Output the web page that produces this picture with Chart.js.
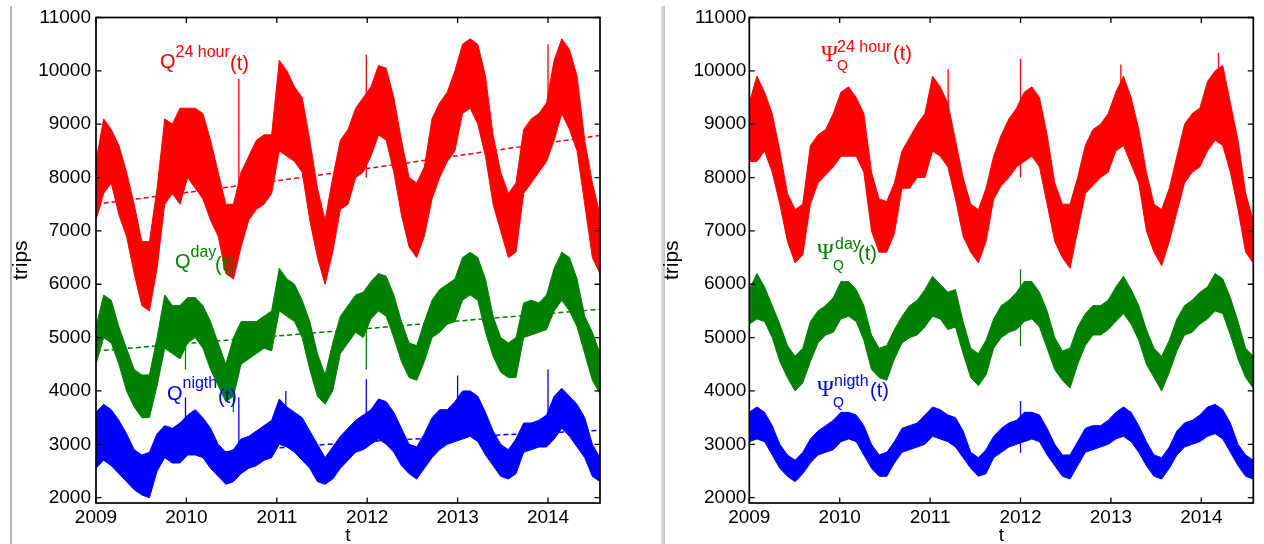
<!DOCTYPE html>
<html><head><meta charset="utf-8">
<script src="https://cdn.jsdelivr.net/npm/chart.js@4.4.1/dist/chart.umd.min.js"></script>
<style>
html,body{margin:0;padding:0;background:#fff;}
#wrap{position:relative;width:1264px;height:544px;overflow:hidden;background:#fff;font-family:"Liberation Sans",Arial,sans-serif;}
.cv{position:absolute;top:0;height:544px;width:632px;}
.sep{position:absolute;}
.lbl{position:absolute;white-space:nowrap;line-height:0;}
</style></head><body>
<div id="wrap">
 <div class="sep" style="left:10px;top:6px;width:2px;height:538px;background:#b4b4b4"></div>
 <div class="sep" style="left:661px;top:6px;width:4px;height:538px;background:linear-gradient(to right,#e6e3dc,#c6c2ba)"></div>
 <div class="cv" style="left:0"><canvas id="c1"></canvas></div>
 <div class="cv" style="left:632px"><canvas id="c2"></canvas></div>
</div>
<script>
// ---- data (monthly envelopes, Jan 2009 .. Jul 2014) ----
const xTicks = [2009, 2010, 2011, 2012, 2013, 2014];
const yTicks = [2000, 3000, 4000, 5000, 6000, 7000, 8000, 9000, 10000, 11000];
const tStart = 2009, tEnd = 2014.575;

// left panel: Q(t)
const q24Hi = [8300,9100,8900,8600,8100,7500,6800,6800,7800,9100,9000,9300,
  9300,9300,9200,8700,8100,7500,7500,8100,8400,8700,8800,8800,
  10200,10000,9700,9500,8700,7800,7200,8000,8700,8900,9300,9500,
  9700,10100,10050,9500,8700,8000,7900,8200,9100,9400,9600,10000,
  10500,10600,10500,9900,8800,8100,7700,7900,8900,9100,9200,9400,
  10200,10600,10400,9900,8700,7900,7300];
const q24Lo = [7200,7700,7900,7300,6900,6200,5600,5500,6300,7500,7700,7500,
  8000,7800,7600,7200,6900,6200,6100,6700,7200,7400,7500,7700,
  8500,8400,8300,8100,7200,6500,6000,6600,7400,7500,8000,8100,
  8400,8800,8700,8100,7300,6700,6500,6900,7600,8000,8300,8500,
  9200,9300,9000,8400,7500,7000,6500,6600,7700,7900,8100,8300,
  8700,9200,8900,8500,7500,6500,6200];
const qDayHi = [5200,5800,5700,5200,4800,4400,4300,4300,5000,5800,5600,5600,
  5750,5750,5600,5300,4900,4500,5000,5300,5300,5300,5400,5500,
  6300,6100,6000,5700,5300,4700,4300,4900,5400,5600,5800,5850,
  6050,6200,6150,5800,5300,4900,4850,5300,5700,5900,6000,6100,
  6500,6600,6500,6100,5400,5000,4900,5000,5650,5700,5650,5800,
  6300,6600,6500,6100,5400,5100,4700];
const qDayLo = [4500,5000,4900,4500,4000,3700,3500,3500,4100,4800,4700,4600,
  4900,5000,4800,4400,4100,3800,3900,4500,4600,4700,4800,4750,
  5500,5400,5300,5000,4400,3900,3750,4000,4700,4900,5100,5000,
  5350,5500,5400,5000,4550,4250,4200,4550,5000,5100,5250,5300,
  5700,5800,5700,5100,4650,4350,4250,4250,5000,5050,5100,5150,
  5500,5700,5500,5200,4700,4200,3950];
const qNightHi = [3600,3750,3650,3450,3200,2900,2800,2850,3200,3350,3300,3400,
  3550,3650,3500,3300,3000,2850,2900,3100,3150,3250,3350,3450,
  3850,3700,3600,3500,3250,3000,2750,2950,3150,3300,3450,3550,
  3650,3850,3800,3600,3300,3000,2950,3200,3500,3650,3650,3800,
  4000,4000,3900,3600,3250,3000,2900,3100,3400,3400,3450,3550,
  3900,4050,3900,3750,3500,3000,2750];
const qNightLo = [2550,2700,2600,2450,2300,2150,2050,2000,2500,2750,2650,2650,
  2800,2800,2750,2550,2400,2250,2300,2450,2550,2600,2700,2750,
  3000,2950,2850,2700,2550,2300,2250,2350,2550,2700,2850,2900,
  3000,3100,3000,2850,2600,2450,2350,2550,2750,2900,3000,3050,
  3100,3150,3050,2800,2600,2400,2350,2450,2850,2900,2950,2950,
  3100,3300,3150,2950,2750,2400,2300];
// dashed trends (left panel)
const trendT = [2009, 2010, 2011, 2012, 2013, 2014, 2014.575];
const trend24 = [7500, 7720, 7940, 8170, 8410, 8650, 8790];
const trendDay = [4750, 4890, 5030, 5170, 5310, 5450, 5530];
const trendNight = [2750, 2810, 2930, 3050, 3140, 3215, 3260];
// single-day spikes (time, from, to), left panel
const qSpikeT  = [2009.00, 2010.58, 2011.99, 2014.00];
const q24SpFrom = [7600, 7300, 8000, 9000];
const q24SpTo   = [8550, 9850, 10300, 10500];
const qDaySpT   = [2009.99, 2010.52, 2011.99];
const qDaySpFrom = [5000, 4200, 5300];
const qDaySpTo   = [4400, 3600, 4400];
const qNightSpT  = [2009.99, 2010.58, 2011.10, 2011.99, 2013.00, 2014.00];
const qNightSpFrom = [3000, 2700, 3300, 3200, 3400, 3400];
const qNightSpTo   = [3880, 3880, 4000, 4220, 4290, 4400];

// right panel: Psi_Q(t)
const p24Hi = [9400,9900,9600,9200,8500,7700,7400,7500,8600,8800,8900,9200,
  9600,9700,9500,9200,8100,7600,7550,7900,8500,8750,9000,9200,
  9900,9700,9400,8700,8000,7500,7400,7800,8400,8800,9100,9300,
  9600,9700,9500,8800,7900,7500,7500,8000,8600,8900,9000,9200,
  9600,9900,9500,8900,8100,7500,7400,7800,8400,9000,9200,9300,
  9800,10000,10100,9400,8700,7700,7200];
const p24Lo = [8300,8300,8500,8100,7500,6800,6400,6550,7500,7900,8050,8200,
  8400,8400,8400,8100,7000,6600,6600,6950,7800,7800,8000,8000,
  8500,8400,8200,7600,6900,6600,6400,6800,7600,7850,8000,8200,
  8300,8400,8200,7500,6800,6500,6300,7000,7700,7850,8000,8100,
  8500,8600,8250,7900,7000,6600,6350,6800,7350,7900,8100,8200,
  8500,8700,8600,8100,7400,6600,6400];
const pDayHi = [5900,6200,5950,5600,5250,4850,4650,4800,5300,5500,5600,5750,
  6050,6050,5900,5600,5050,4800,4850,5150,5400,5600,5700,5900,
  6150,6000,5850,5900,5300,4800,4700,4950,5350,5600,5700,5850,
  6050,6050,5850,5500,5000,4750,4800,5200,5450,5600,5600,5700,
  5950,6150,5900,5600,5150,4800,4650,4950,5350,5600,5700,5850,
  5950,6200,6100,5750,5300,4800,4650];
const pDayLo = [5250,5350,5300,5000,4550,4250,4000,4150,4550,4900,5050,5100,
  5350,5400,5300,4950,4400,4250,4200,4600,4900,5000,5050,5200,
  5400,5350,5150,5200,4700,4250,4100,4300,4800,5000,5100,5150,
  5300,5350,5200,4800,4400,4200,4050,4500,4850,5050,5050,5150,
  5300,5450,5250,4950,4500,4250,4000,4350,4750,5050,5100,5250,
  5350,5500,5450,5050,4600,4250,4050];
const pNightHi = [3600,3700,3600,3350,3000,2800,2700,2850,3100,3250,3350,3450,
  3600,3600,3550,3350,3000,2800,2850,3050,3300,3350,3400,3550,
  3700,3650,3550,3500,3250,2850,2750,2900,3150,3300,3400,3450,
  3600,3600,3550,3300,3000,2800,2800,3050,3300,3350,3350,3450,
  3600,3700,3600,3350,3050,2800,2750,2950,3250,3400,3450,3550,
  3700,3750,3650,3400,3000,2800,2700];
const pNightLo = [3050,3100,3050,2800,2550,2400,2300,2450,2650,2800,2850,2900,
  3050,3100,3050,2800,2550,2400,2400,2650,2850,2900,2950,3000,
  3150,3100,3050,2950,2750,2550,2400,2450,2750,2850,2950,3000,
  3050,3100,3050,2800,2600,2400,2350,2600,2850,2900,2950,3000,
  3100,3150,3050,2850,2600,2400,2350,2550,2800,2950,3000,3050,
  3150,3200,3100,2850,2600,2400,2350];
// single-day spikes, right panel
const p24SpT = [2011.20, 2012.00, 2013.11, 2014.19];
const p24SpFrom = [8800, 8000, 8800, 9000];
const p24SpTo   = [10030, 10220, 10120, 10340];
const pDaySpT = [2012.00, 2012.00];
const pDaySpFrom = [5200, 5600];
const pDaySpTo   = [6280, 4840];
const pNightSpT = [2012.00, 2012.00];
const pNightSpFrom = [3000, 3300];
const pNightSpTo   = [3810, 2840];

const RED = '#ff0000', GREEN = '#008000', BLUE = '#0000ff';
const N = q24Hi.length;
const times = Array.from({length: N}, (_, m) => tStart + m * (tEnd - tStart) / (N - 1));

const FONT = '"Liberation Sans", Arial, sans-serif';
Chart.defaults.color = '#000';
Chart.defaults.font.family = FONT;

const framePlugin = {
  id: 'frame',
  afterDraw(chart) {
    const {ctx, chartArea: {left, right, top, bottom}, scales: {x, y}} = chart;
    ctx.save();
    ctx.strokeStyle = '#000';
    ctx.lineWidth = 1.3;
    ctx.beginPath();
    yTicks.forEach(v => { const p = y.getPixelForValue(v);
      ctx.moveTo(left, p); ctx.lineTo(left + 5.5, p);
      ctx.moveTo(right, p); ctx.lineTo(right - 5.5, p); });
    xTicks.forEach(v => { const p = x.getPixelForValue(v);
      ctx.moveTo(p, bottom); ctx.lineTo(p, bottom - 5.5);
      ctx.moveTo(p, top); ctx.lineTo(p, top + 5.5); });
    ctx.stroke();
    ctx.lineWidth = 1.7;
    ctx.strokeRect(left, top, right - left, bottom - top);
    ctx.restore();
  }
};

function bandSets(hi, lo, color) {
  return [
    {data: times.map((t, i) => ({x: t, y: hi[i]})), borderColor: color, backgroundColor: color,
     borderWidth: 1, pointRadius: 0, fill: '+1', tension: 0},
    {data: times.map((t, i) => ({x: t, y: lo[i]})), borderColor: color, backgroundColor: color,
     borderWidth: 1, pointRadius: 0, fill: false, tension: 0}
  ];
}
function spikeSet(ts, from, to, color) {
  const d = [];
  ts.forEach((t, i) => { d.push({x: t, y: from[i]}, {x: t, y: to[i]}, {x: t, y: null}); });
  return {data: d, borderColor: color, borderWidth: 1.3, pointRadius: 0, fill: false, spanGaps: false};
}
function trendSet(vals, color) {
  return {data: trendT.map((t, i) => ({x: t, y: vals[i]})), borderColor: color, borderWidth: 1.5,
    borderDash: [5, 3], pointRadius: 0, fill: false, tension: 0.3};
}

function makeChart(id, datasets, yAxisWidth, rightPad, tickPad, titlePad) {
  return new Chart(document.getElementById(id), {
    type: 'line',
    data: {datasets},
    options: {
      responsive: true, maintainAspectRatio: false, animation: false,
      layout: {padding: {left: 0, right: rightPad, top: 17.5, bottom: 0}},
      plugins: {legend: {display: false}, tooltip: {enabled: false}},
      scales: {
        x: {type: 'linear', min: tStart, max: tEnd,
          grid: {display: false, drawTicks: false}, border: {display: false},
          afterBuildTicks: s => { s.ticks = xTicks.map(v => ({value: v})); },
          afterFit: s => { s.height = 41; },
          ticks: {font: {size: 19}, padding: 3, maxRotation: 0, autoSkip: false, callback: v => String(v)},
          title: {display: true, text: 't', font: {size: 19, lineHeight: 0.9}, padding: {top: 0, bottom: 0}}
        },
        y: {type: 'linear', min: 1900, max: 11000,
          grid: {display: false, drawTicks: false}, border: {display: false},
          afterBuildTicks: s => { s.ticks = yTicks.map(v => ({value: v})); },
          afterFit: s => { s.width = yAxisWidth; },
          ticks: {font: {size: 19}, padding: tickPad, autoSkip: false, callback: v => String(v)},
          title: {display: true, text: 'trips', font: {size: 21, lineHeight: 0.9}, padding: {top: titlePad, bottom: 0}}
        }
      }
    },
    plugins: [framePlugin]
  });
}

makeChart('c1', [
  ...bandSets(q24Hi, q24Lo, RED), spikeSet(qSpikeT, q24SpFrom, q24SpTo, RED), trendSet(trend24, RED),
  ...bandSets(qDayHi, qDayLo, GREEN), spikeSet(qDaySpT, qDaySpFrom, qDaySpTo, GREEN), trendSet(trendDay, GREEN),
  ...bandSets(qNightHi, qNightLo, BLUE), spikeSet(qNightSpT, qNightSpFrom, qNightSpTo, BLUE), trendSet(trendNight, BLUE)
], 96, 32, 5, 11.5);

makeChart('c2', [
  ...bandSets(p24Hi, p24Lo, RED), spikeSet(p24SpT, p24SpFrom, p24SpTo, RED),
  ...bandSets(pDayHi, pDayLo, GREEN), spikeSet(pDaySpT, pDaySpFrom, pDaySpTo, GREEN),
  ...bandSets(pNightHi, pNightLo, BLUE), spikeSet(pNightSpT, pNightSpFrom, pNightSpTo, BLUE)
], 117.3, 10.7, 3, 31);

// ---- annotation labels (text, left, baseline, size, colour, serif?) ----
const labelParts = [
  ['Q', 160, 68, 20, RED, 0], ['24 hour', 175.5, 58, 16, RED, 0], ['(t)', 230, 70, 20, RED, 0],
  ['Q', 175, 268, 20, GREEN, 0], ['day', 190.5, 258, 16, GREEN, 0], ['(t)', 215, 271, 20, GREEN, 0],
  ['Q', 167, 400, 20, BLUE, 0], ['nigth', 182.5, 389, 16, BLUE, 0], ['(t)', 218, 403, 20, BLUE, 0],
  ['\u03A8', 821, 62, 23, RED, 1], ['Q', 837, 70, 14, RED, 0], ['24 hour', 837, 53, 16, RED, 0], ['(t)', 893, 60, 20, RED, 0],
  ['\u03A8', 817, 260, 23, GREEN, 1], ['Q', 833, 270, 14, GREEN, 0], ['day', 835, 250, 16, GREEN, 0], ['(t)', 858, 260, 20, GREEN, 0],
  ['\u03A8', 817, 397, 23, BLUE, 1], ['Q', 833, 407, 14, BLUE, 0], ['nigth', 834, 387, 16, BLUE, 0], ['(t)', 870, 397, 20, BLUE, 0]
];
const wrap = document.getElementById('wrap');
labelParts.forEach(([txt, x, base, fs, col, serif]) => {
  const s = document.createElement('span');
  s.className = 'lbl';
  s.textContent = txt;
  s.style.left = x + 'px';
  s.style.top = (base - 0.3465 * fs) + 'px';
  s.style.fontSize = fs + 'px';
  s.style.color = col;
  s.style.fontFamily = serif ? '"Liberation Serif","Times New Roman",serif' : FONT;
  wrap.appendChild(s);
});
</script>
</body></html>
